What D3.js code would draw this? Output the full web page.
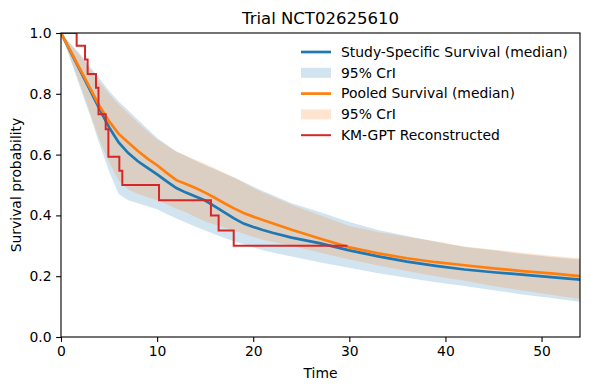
<!DOCTYPE html>
<html>
<head>
<meta charset="utf-8">
<script src="https://cdn.jsdelivr.net/npm/d3@7"></script>
<style>
  body { margin: 0; background: #fff; }
  text { font-family: "DejaVu Sans", sans-serif; fill: #000; }
</style>
</head>
<body>
<div id="chart"></div>
<script>
////////////////////////// Data //////////////////////////
var times = [0,1,2,3,4,5,6,7,8,9,10,11,12,13,14,15,16,17,18,19,20,21,22,24,27,30,33,36,39,42,45,48,51,54];

var studyMedian = [1.0,0.938,0.876,0.814,0.75,0.69,0.64,0.605,0.578,0.556,0.535,0.512,0.49,0.475,0.462,0.449,0.43,0.41,0.39,0.373,0.362,0.352,0.343,0.327,0.308,0.285,0.265,0.248,0.234,0.222,0.213,0.205,0.197,0.189];
var studyLower  = [1.0,0.91,0.82,0.73,0.635,0.545,0.47,0.45,0.44,0.43,0.42,0.405,0.39,0.377,0.363,0.35,0.338,0.326,0.315,0.305,0.295,0.285,0.278,0.265,0.245,0.228,0.21,0.195,0.18,0.168,0.154,0.14,0.128,0.116];
var studyUpper  = [1.0,0.965,0.93,0.89,0.85,0.81,0.775,0.745,0.715,0.685,0.655,0.632,0.61,0.595,0.58,0.565,0.552,0.538,0.525,0.51,0.495,0.48,0.467,0.44,0.41,0.378,0.352,0.332,0.313,0.296,0.285,0.273,0.263,0.255];

var pooledMedian = [1.0,0.94,0.88,0.82,0.76,0.71,0.668,0.64,0.612,0.587,0.565,0.54,0.516,0.503,0.49,0.475,0.458,0.44,0.423,0.408,0.396,0.385,0.374,0.353,0.323,0.295,0.275,0.259,0.246,0.236,0.226,0.217,0.209,0.2];
var pooledLower  = [1.0,0.915,0.83,0.74,0.65,0.575,0.515,0.485,0.47,0.46,0.45,0.437,0.423,0.41,0.395,0.38,0.37,0.36,0.35,0.34,0.33,0.32,0.313,0.3,0.277,0.255,0.235,0.217,0.2,0.185,0.168,0.153,0.139,0.125];
var pooledUpper  = [1.0,0.962,0.925,0.882,0.84,0.8,0.765,0.735,0.705,0.677,0.65,0.63,0.61,0.596,0.583,0.57,0.555,0.54,0.525,0.508,0.49,0.475,0.462,0.435,0.4,0.365,0.345,0.33,0.315,0.298,0.288,0.277,0.267,0.259];

// KM-GPT reconstructed step curve
var kmTimes    = [0,1.63,2.5,2.77,3.64,3.9,4.65,4.93,6.07,6.38,10.2,15.6,16.4,17.97,29.8];
var kmSurvival = [1.0,0.958,0.913,0.865,0.82,0.733,0.683,0.593,0.547,0.5,0.45,0.40,0.35,0.30,0.30];

var xTicks = [0,10,20,30,40,50];
var yTicks = [0,0.2,0.4,0.6,0.8,1.0];

var legendItems = [
	{label: "Study-Specific Survival (median)", type: "line", color: "#1f77b4"},
	{label: "95% CrI", type: "patch", color: "#1f77b4"},
	{label: "Pooled Survival (median)", type: "line", color: "#ff7f0e"},
	{label: "95% CrI", type: "patch", color: "#ff7f0e"},
	{label: "KM-GPT Reconstructed", type: "line", color: "#d62728", width: 2}
];

////////////////////////// Set-up //////////////////////////
var W = 590, H = 390,
	fontSize = "13.9px";
var margin = {top: 33, right: 10, bottom: 53, left: 61},
	width = W - margin.left - margin.right,
	height = H - margin.top - margin.bottom;

var svg = d3.select("#chart").append("svg")
	.attr("width", W)
	.attr("height", H);

var g = svg.append("g")
	.attr("transform", "translate(" + margin.left + "," + margin.top + ")");

var x = d3.scaleLinear().domain([0, 54]).range([0, width]);
var y = d3.scaleLinear().domain([0, 1]).range([height, 0]);

g.append("clipPath").attr("id", "clip")
  .append("rect").attr("width", width).attr("height", height);

var plot = g.append("g").attr("clip-path", "url(#clip)");

function series(med, lo, hi) {
	return times.map(function(t, i) { return {t: t, m: med[i], lo: lo[i], hi: hi[i]}; });
}
var study = series(studyMedian, studyLower, studyUpper);
var pooled = series(pooledMedian, pooledLower, pooledUpper);

var area = d3.area()
	.x(function(d) { return x(d.t); })
	.y0(function(d) { return y(d.lo); })
	.y1(function(d) { return y(d.hi); });

var line = d3.line()
	.x(function(d) { return x(d.t); })
	.y(function(d) { return y(d.m); });

//Credible bands first
plot.append("path").datum(study)
	.attr("d", area)
	.style("fill", "#1f77b4").style("fill-opacity", 0.2);
plot.append("path").datum(pooled)
	.attr("d", area)
	.style("fill", "#ff7f0e").style("fill-opacity", 0.2);

//Median lines
plot.append("path").datum(study)
	.attr("d", line)
	.style("fill", "none").style("stroke", "#1f77b4").style("stroke-width", 2.7);
plot.append("path").datum(pooled)
	.attr("d", line)
	.style("fill", "none").style("stroke", "#ff7f0e").style("stroke-width", 2.7);

//KM step
var km = kmTimes.map(function(t, i) { return {t: t, s: kmSurvival[i]}; });
plot.append("path").datum(km)
	.attr("d", d3.line().curve(d3.curveStepAfter)
		.x(function(d) { return x(d.t); })
		.y(function(d) { return y(d.s); }))
	.style("fill", "none").style("stroke", "#d62728").style("stroke-width", 2);

////////////////////////// Axes //////////////////////////
var xAxis = g.append("g")
	.attr("transform", "translate(0," + height + ")")
	.call(d3.axisBottom(x).tickValues(xTicks).tickSize(4.9).tickPadding(4.5).tickFormat(d3.format("d")));
var yAxis = g.append("g")
	.call(d3.axisLeft(y).tickValues(yTicks).tickSize(4.9).tickPadding(4.5).tickFormat(d3.format(".1f")));

[xAxis, yAxis].forEach(function(a) {
	a.select(".domain").remove();
	a.selectAll("line").style("stroke", "#000").style("stroke-width", 1.1);
	a.selectAll("text").style("font-size", fontSize).style("font-family", "DejaVu Sans");
});

//Spines
g.append("rect")
	.attr("width", width).attr("height", height)
	.style("fill", "none").style("stroke", "#000").style("stroke-width", 1.1);

//Labels
g.append("text")
	.attr("x", width / 2).attr("y", height + 41)
	.style("text-anchor", "middle").style("font-size", fontSize)
	.text("Time");

g.append("text")
	.attr("transform", "rotate(-90)")
	.attr("x", -height / 2).attr("y", -40)
	.style("text-anchor", "middle").style("font-size", fontSize)
	.text("Survival probability");

g.append("text")
	.attr("x", width / 2).attr("y", -9)
	.style("text-anchor", "middle").style("font-size", "16.5px")
	.text("Trial NCT02625610");

////////////////////////// Legend //////////////////////////
var legend = svg.append("g").attr("transform", "translate(301,52)");
legendItems.forEach(function(d, i) {
	var row = legend.append("g").attr("transform", "translate(0," + (i * 20.8) + ")");
	if (d.type === "line") {
		row.append("line")
			.attr("x1", 0).attr("x2", 30).attr("y1", 0).attr("y2", 0)
			.style("stroke", d.color).style("stroke-width", d.width || 2.7);
	} else {
		row.append("rect")
			.attr("x", 0).attr("y", -5).attr("width", 30).attr("height", 10)
			.style("fill", d.color).style("fill-opacity", 0.2);
	}
	row.append("text")
		.attr("x", 40).attr("y", 0).attr("dy", "0.35em")
		.style("font-size", fontSize)
		.text(d.label);
});
</script>
</body>
</html>
